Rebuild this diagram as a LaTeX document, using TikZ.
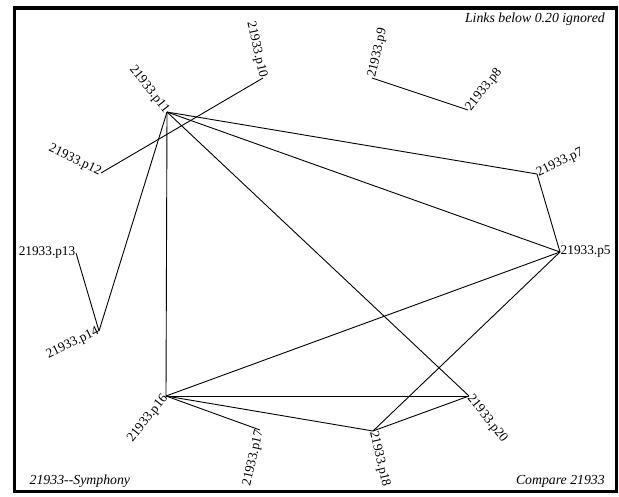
\documentclass[tikz,border=0pt]{standalone}
\usepackage{fontspec}
\setmainfont{Liberation Serif}
\begin{document}
\begin{tikzpicture}[x=1pt, y=-1pt, font=\fontsize{13.3}{16}\selectfont]
    \useasboundingbox (0,0) rectangle (619,496);
    \draw [line width=3.6] (14.5,8) rectangle (616.5,491.5);

    \coordinate (p5) at (560,252);
    \coordinate (p7) at (537,174);
    \coordinate (p8) at (468,110);
    \coordinate (p9) at (372,78);
    \coordinate (p10) at (263,78);
    \coordinate (p11) at (167,112);
    \coordinate (p12) at (101,173);
    \coordinate (p13) at (76,253);
    \coordinate (p14) at (99,331);
    \coordinate (p16) at (166,396);
    \coordinate (p17) at (260,430);
    \coordinate (p18) at (373,431);
    \coordinate (p20) at (469,396);

    \begin{scope}[every node/.style={anchor=west, inner sep=0.5pt}]
        \node (l5) [rotate=0] at (p5) {21933.p5};
        \node (l7) [rotate=25.7] at (p7) {21933.p7};
        \node (l8) [rotate=51.4] at (p8) {21933.p8};
        \node (l9) [rotate=77.1] at (p9) {21933.p9};
        \node (l18) [rotate=-77.1] at (p18) {21933.p18};
        \node (l20) [rotate=-51.4] at (p20) {21933.p20};
    \end{scope}

    \begin{scope}[every node/.style={anchor=east, inner sep=0.5pt}]
        \node (l10) [rotate=-77.1] at (p10) {21933.p10};
        \node (l11) [rotate=-51.4] at (p11) {21933.p11};
        \node (l12) [rotate=-25.7] at (p12) {21933.p12};
        \node (l13) [rotate=0] at (p13) {21933.p13};
        \node (l14) [rotate=25.7] at (p14) {21933.p14};
        \node (l16) [rotate=51.4] at (p16) {21933.p16};
        \node (l17) [rotate=77.1] at (p17) {21933.p17};
    \end{scope}

    \begin{scope}[every edge/.style={draw, line width=0.9}]
        \path [-] (p10) edge (p12);
        \path [-] (p11) edge (p7);
        \path [-] (p11) edge (p5);
        \path [-] (p11) edge (p20);
        \path [-] (p11) edge (p16);
        \path [-] (p11) edge (p14);
        \path [-] (p13) edge (p14);
        \path [-] (p9) edge (p8);
        \path [-] (p7) edge (p5);
        \path [-] (p5) edge (p16);
        \path [-] (p5) edge (p18);
        \path [-] (p16) edge (p20);
        \path [-] (p16) edge (p18);
        \path [-] (p16) edge (p17);
        \path [-] (p18) edge (p20);
    \end{scope}

    \begin{scope}[every node/.style={font=\fontsize{13.8}{16}\selectfont\itshape, inner sep=0pt}]
        \node (links) [anchor=base east] at (605,22) {Links below 0.20 ignored};
        \node (title) [anchor=base west] at (29.5,484) {21933-{}-Symphony};
        \node (compare) [anchor=base east] at (605,484) {Compare 21933};
    \end{scope}
\end{tikzpicture}
\end{document}
